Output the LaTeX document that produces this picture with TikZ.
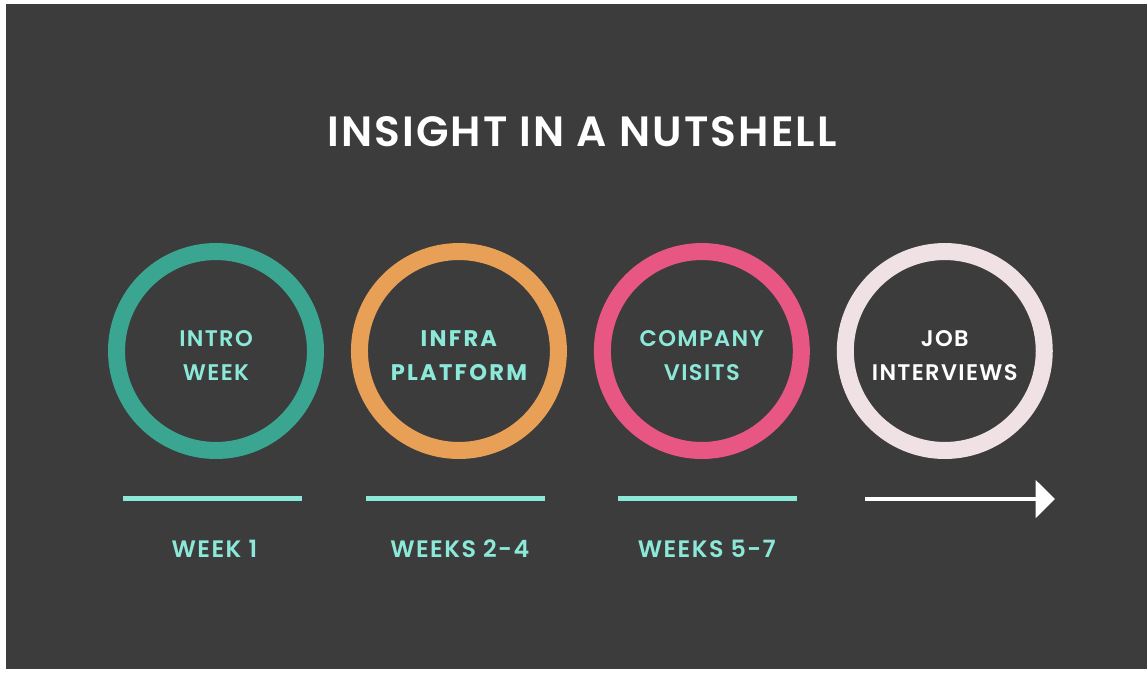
\documentclass[tikz,border=0pt]{standalone}
\usepackage{fontspec}
\setmainfont{Poppins}
\newfontfamily\semifont{Poppins}[UprightFont=* SemiBold, LetterSpace=6]
\newfontfamily\boldfont{Poppins}[UprightFont=* Bold, LetterSpace=10]
\newfontfamily\titlefont{Poppins}[UprightFont=* SemiBold, LetterSpace=5]
\usetikzlibrary{arrows.meta,positioning}
\definecolor{bgdark}{RGB}{60,60,60}
\definecolor{ringteal}{RGB}{58,166,146}
\definecolor{ringorange}{RGB}{231,160,85}
\definecolor{ringpink}{RGB}{232,87,132}
\definecolor{ringlight}{RGB}{240,225,228}
\definecolor{labelcyan}{RGB}{140,232,216}

\begin{document}
\begin{tikzpicture}[
    x=0.567pt, y=-0.567pt,
    node distance=15.3pt,
    ring/.style={circle, draw=#1, line width=9.64pt, minimum size=112.8pt, inner sep=0pt},
    ringtext/.style={align=center, text=labelcyan, yshift=-2.6pt, font=\semifont\fontsize{12.8}{19.3}\selectfont},
    bar/.style={rectangle, fill=labelcyan, minimum width=101.5pt, minimum height=2.8pt, inner sep=0pt},
    weeklabel/.style={text=labelcyan, font=\semifont\fontsize{13.5}{16}\selectfont},
    arrow/.style={-{Triangle[length=11pt, width=21pt]}, line width=2.8pt, white}
]
\useasboundingbox (0,0) rectangle (1147,673);
\fill[bgdark] (6,4) rectangle (1147,669);

\node[text=white, font=\titlefont\fontsize{24}{30}\selectfont] (title) at (582,132) {INSIGHT IN A NUTSHELL};

\node[ring=ringteal] (intro) at (216,351) {};
\node[ring=ringorange, right=of intro] (infra) {};
\node[ring=ringpink, right=of infra] (visits) {};
\node[ring=ringlight, right=of visits] (jobs) {};

\node[ringtext] (introtext) at (intro) {INTRO\\WEEK};
\node[ringtext, font=\boldfont\fontsize{12.8}{19.3}\selectfont] (infratext) at (infra) {INFRA\\PLATFORM};
\node[ringtext] (visitstext) at (visits) {COMPANY\\VISITS};
\node[ringtext, text=white] (jobstext) at (jobs) {JOB\\INTERVIEWS};

\node[bar, below=21pt of intro, xshift=-2pt] (bar1) {};
\node[bar, below=21pt of infra, xshift=-2pt] (bar2) {};
\node[bar, below=21pt of visits, xshift=3.4pt] (bar3) {};

\node[weeklabel, below=18.3pt of bar1, xshift=1.1pt] (wk1) {WEEK 1};
\node[weeklabel, below=18.3pt of bar2, xshift=2.5pt] (wk2) {WEEKS 2-4};
\node[weeklabel, below=18.3pt of bar3, xshift=-0.6pt] (wk3) {WEEKS 5-7};

\coordinate (go) at (865,499);
\coordinate (goal) at (1055,499);
\draw[arrow] (go) -- (goal);
\end{tikzpicture}
\end{document}
